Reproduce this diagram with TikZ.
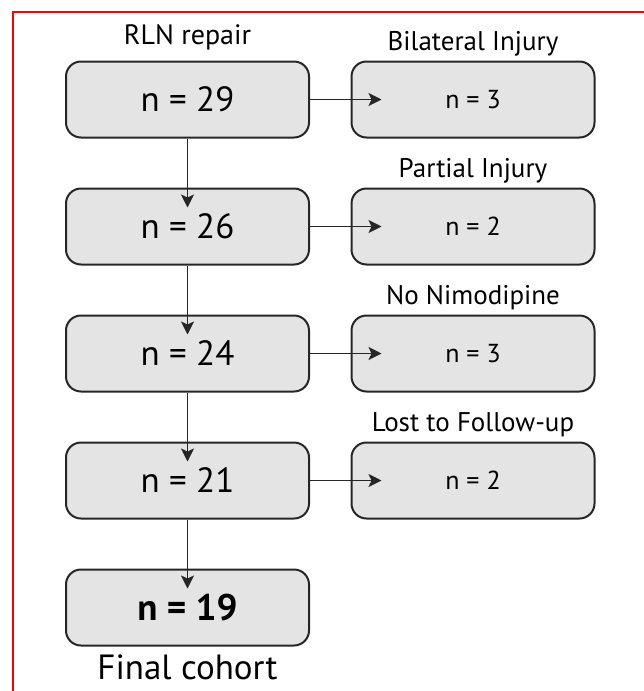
\documentclass[tikz,border=0pt]{standalone}
\usepackage{fontspec}
\setmainfont{PT Sans}
\usetikzlibrary{arrows.meta}
\definecolor{boxfill}{HTML}{E4E4E4}
\definecolor{boxline}{HTML}{262626}
\tikzset{
  stagebox/.style={draw=boxline, line width=2pt, fill=boxfill, rounded corners=15pt,
    minimum width=243pt, minimum height=76pt, inner sep=0pt},
  flowarrow/.style={draw=boxline, line width=1.7pt, -{Stealth[length=13pt,width=13pt,inset=3pt]}},
  toplabel/.style={anchor=base, inner sep=0pt, font=\fontsize{27}{30}\selectfont}
}
\begin{document}
\begin{tikzpicture}[x=1pt,y=-1pt]
\useasboundingbox (0,0) rectangle (644,691);
\draw[red, line width=2.2pt] (13,691) -- (13,12) -- (644,12);
\node[stagebox, font=\fontsize{35}{40}\selectfont] (a) at (187.5,99.5) {n = 29};
\node[stagebox, font=\fontsize{35}{40}\selectfont] (b) at (187.5,226.5) {n = 26};
\node[stagebox, font=\fontsize{35}{40}\selectfont] (c) at (187.5,353.5) {n = 24};
\node[stagebox, font=\fontsize{35}{40}\selectfont] (d) at (187.5,480.5) {n = 21};
\node[stagebox, font=\fontsize{37}{42}\bfseries\selectfont] (e) at (187.5,607.5) {n = 19};
\node[stagebox, font=\fontsize{26}{30}\selectfont] (a2) at (473,99.5) {n = 3};
\node[stagebox, font=\fontsize{26}{30}\selectfont] (b2) at (473,226.5) {n = 2};
\node[stagebox, font=\fontsize{26}{30}\selectfont] (c2) at (473,353.5) {n = 3};
\node[stagebox, font=\fontsize{26}{30}\selectfont] (d2) at (473,480.5) {n = 2};
% labels
\node[toplabel, font=\fontsize{28}{30}\selectfont] (la) at ([yshift=16pt]a.north) {RLN repair};
\node[toplabel] (la2) at ([yshift=10pt]a2.north) {Bilateral Injury};
\node[toplabel] (lb2) at ([yshift=10pt]b2.north) {Partial Injury};
\node[toplabel] (lc2) at ([yshift=10pt]c2.north) {No Nimodipine};
\node[toplabel] (ld2) at ([yshift=10pt]d2.north) {Lost to Follow-up};
\node[anchor=base, inner sep=0pt, font=\fontsize{35}{40}\selectfont] (le) at ([yshift=-33pt]e.south) {Final cohort};
% arrows
\draw[flowarrow, shorten >=-20pt] (a.south) -- (b.north);
\draw[flowarrow, shorten >=-20pt] (b.south) -- (c.north);
\draw[flowarrow, shorten >=-20pt] (c.south) -- (d.north);
\draw[flowarrow, shorten >=-20pt] (d.south) -- (e.north);
\draw[flowarrow, shorten >=-31pt] (a.east) -- (a2.west);
\draw[flowarrow, shorten >=-31pt] (b.east) -- (b2.west);
\draw[flowarrow, shorten >=-31pt] (c.east) -- (c2.west);
\draw[flowarrow, shorten >=-31pt] (d.east) -- (d2.west);
\end{tikzpicture}
\end{document}
